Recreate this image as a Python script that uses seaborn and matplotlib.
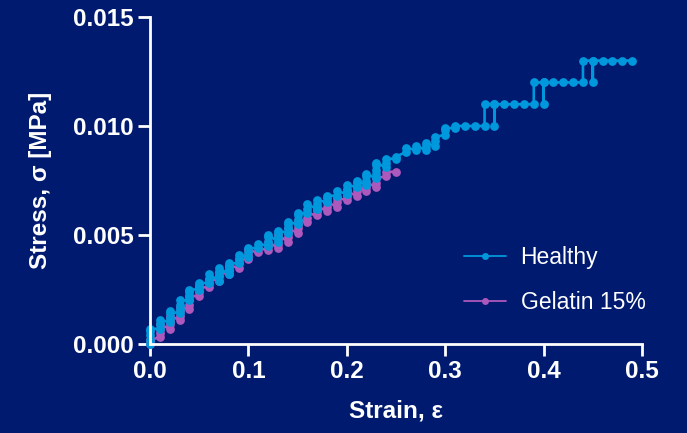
import matplotlib
matplotlib.use("Agg")
import matplotlib.pyplot as plt
from matplotlib.lines import Line2D
import seaborn as sns
import pandas as pd

# =====================================================
# DATA
# =====================================================

healthy_strain = [
    0.00, 0.00, 0.00, 0.00, 0.00,
    0.01, 0.01, 0.01,
    0.02, 0.02, 0.02, 0.02,
    0.03, 0.03, 0.03, 0.03,
    0.04, 0.04, 0.04, 0.04,
    0.05, 0.05, 0.05,
    0.06, 0.06, 0.06,
    0.07, 0.07, 0.07, 0.07,
    0.08, 0.08, 0.08, 0.08,
    0.09, 0.09, 0.09,
    0.10, 0.10, 0.10,
    0.11, 0.11,
    0.12, 0.12, 0.12, 0.12,
    0.13, 0.13, 0.13, 0.13,
    0.14, 0.14, 0.14, 0.14,
    0.15, 0.15, 0.15, 0.15,
    0.16, 0.16, 0.16,
    0.17, 0.17, 0.17,
    0.18, 0.18, 0.18,
    0.19, 0.19,
    0.20, 0.20, 0.20,
    0.21, 0.21, 0.21,
    0.22, 0.22, 0.22, 0.22,
    0.23, 0.23, 0.23, 0.23, 0.23,
    0.24, 0.24, 0.24,
    0.25, 0.25,
    0.26, 0.26,
    0.27, 0.27,
    0.28, 0.28, 0.28,
    0.29, 0.29, 0.29,
    0.30, 0.30, 0.30,
    0.31, 0.31,
    0.32, 0.33,
    0.34, 0.34,
    0.35, 0.35, 0.35,
    0.36, 0.37, 0.38,
    0.39, 0.39,
    0.40, 0.40, 0.40,
    0.41, 0.42, 0.43,
    0.44, 0.44,
    0.45, 0.45, 0.45,
    0.46, 0.47, 0.48, 0.49,
]

healthy_stress = [
    0.0000, 0.0002, 0.0004, 0.0006, 0.0007,
    0.0007, 0.0009, 0.0011,
    0.0010, 0.0012, 0.0014, 0.0015,
    0.0014, 0.0016, 0.0018, 0.0020,
    0.0020, 0.0022, 0.0024, 0.0025,
    0.0025, 0.0027, 0.0028,
    0.0028, 0.0030, 0.0032,
    0.0029, 0.0031, 0.0033, 0.0035,
    0.0032, 0.0034, 0.0036, 0.0037,
    0.0037, 0.0039, 0.0041,
    0.0040, 0.0042, 0.0044,
    0.0044, 0.0046,
    0.0045, 0.0047, 0.0049, 0.0050,
    0.0047, 0.0049, 0.0051, 0.0052,
    0.0051, 0.0053, 0.0055, 0.0056,
    0.0055, 0.0057, 0.0059, 0.0060,
    0.0060, 0.0062, 0.0064,
    0.0062, 0.0064, 0.0066,
    0.0065, 0.0067, 0.0068,
    0.0068, 0.0070,
    0.0069, 0.0071, 0.0073,
    0.0072, 0.0074, 0.0075,
    0.0073, 0.0075, 0.0077, 0.0078,
    0.0076, 0.0078, 0.0080, 0.0082, 0.0083,
    0.0081, 0.0083, 0.0085,
    0.0085, 0.0086,
    0.0088, 0.0090,
    0.0089, 0.0091,
    0.0089, 0.0091, 0.0092,
    0.0091, 0.0093, 0.0095,
    0.0096, 0.0098, 0.0099,
    0.0099, 0.010,
    0.010, 0.010,
    0.010, 0.011,
    0.011, 0.010, 0.011,
    0.011, 0.011, 0.011,
    0.011, 0.012,
    0.012, 0.011, 0.012,
    0.012, 0.012, 0.012,
    0.012, 0.013,
    0.013, 0.012, 0.013,
    0.013, 0.013, 0.013, 0.013,
]

gelatin_strain = [
    0.00, 0.00,
    0.01, 0.01, 0.01, 0.01,
    0.02, 0.02, 0.02, 0.02,
    0.03, 0.03, 0.03, 0.03,
    0.04, 0.04, 0.04, 0.04,
    0.05, 0.05, 0.05,
    0.06, 0.06, 0.06,
    0.07, 0.07, 0.07,
    0.08, 0.08, 0.08,
    0.09, 0.09, 0.09,
    0.10, 0.10, 0.10,
    0.11, 0.11,
    0.12, 0.12, 0.12,
    0.13, 0.13, 0.13, 0.13,
    0.14, 0.14, 0.14, 0.14,
    0.15, 0.15, 0.15, 0.15,
    0.16, 0.16, 0.16,
    0.17, 0.17, 0.17,
    0.18, 0.18, 0.18,
    0.19, 0.19, 0.19,
    0.20, 0.20, 0.20,
    0.21, 0.21, 0.21,
    0.22, 0.22, 0.22,
    0.23, 0.23, 0.23,
    0.24, 0.24,
    0.25,
]

gelatin_stress = [
    0.0000, 0.0002,
    0.0003, 0.0005, 0.0007, 0.0009,
    0.0007, 0.0009, 0.0011, 0.0013,
    0.0011, 0.0013, 0.0015, 0.0017,
    0.0016, 0.0018, 0.0020, 0.0022,
    0.0022, 0.0024, 0.0026,
    0.0026, 0.0028, 0.0030,
    0.0029, 0.0031, 0.0033,
    0.0032, 0.0034, 0.0036,
    0.0035, 0.0037, 0.0039,
    0.0039, 0.0041, 0.0043,
    0.0042, 0.0044,
    0.0043, 0.0045, 0.0047,
    0.0044, 0.0046, 0.0048, 0.0050,
    0.0047, 0.0049, 0.0051, 0.0053,
    0.0051, 0.0053, 0.0055, 0.0057,
    0.0056, 0.0058, 0.0060,
    0.0059, 0.0061, 0.0063,
    0.0061, 0.0063, 0.0065,
    0.0063, 0.0065, 0.0067,
    0.0066, 0.0068, 0.0070,
    0.0068, 0.0070, 0.0072,
    0.0070, 0.0072, 0.0074,
    0.0072, 0.0074, 0.0076,
    0.0077, 0.0079,
    0.0079,
]

group_names = ["Healthy", "Gelatin 15%"]

x_ticks = [0.0, 0.1, 0.2, 0.3, 0.4, 0.5]
y_ticks = [0.000, 0.005, 0.010, 0.015]

# =====================================================
# STYLE
# =====================================================

bg_color = "#001a70"
colors = {"Healthy": "#0098dc", "Gelatin 15%": "#ad58bd"}

sns.set_style("ticks")
plt.rcParams['font.family'] = ['Liberation Sans', 'DejaVu Sans']

df = pd.concat([
    pd.DataFrame({"strain": healthy_strain, "stress": healthy_stress, "group": group_names[0]}),
    pd.DataFrame({"strain": gelatin_strain, "stress": gelatin_stress, "group": group_names[1]}),
], ignore_index=True)

fig = plt.figure(figsize=(6.87, 4.33), dpi=100, facecolor=bg_color)
ax = fig.add_axes([150 / 687, 1 - 344 / 433, 492 / 687, 327 / 433])
ax.set_facecolor(bg_color)

# gelatin first so healthy sits on top
for name in [group_names[1], group_names[0]]:
    sns.lineplot(
        data=df[df["group"] == name],
        x="strain",
        y="stress",
        sort=False,
        estimator=None,
        color=colors[name],
        marker="o",
        markersize=6.3,
        markeredgewidth=0,
        linewidth=1.9,
        clip_on=False,
        ax=ax,
    )

ax.set_xlim(0, 0.5)
ax.set_ylim(0, 0.015)
ax.set_xticks(x_ticks)
ax.set_yticks(y_ticks)
ax.set_xticklabels([f"{v:.1f}" for v in x_ticks])
ax.set_yticklabels([f"{v:.3f}" for v in y_ticks])

for side in ["top", "right"]:
    ax.spines[side].set_visible(False)
for side in ["left", "bottom"]:
    ax.spines[side].set_color("white")
    ax.spines[side].set_linewidth(2)

ax.tick_params(colors="white", width=2, length=8.5, labelsize=17.5, pad=3)
for lab in ax.get_xticklabels() + ax.get_yticklabels():
    lab.set_fontweight("bold")

ax.set_xlabel("Strain, ε", color="white", fontsize=17.5, fontweight="bold", labelpad=12)
ax.set_ylabel("Stress, σ [MPa]", color="white", fontsize=17.5, fontweight="bold", labelpad=15)

handles = [
    Line2D([], [], color=colors[n], marker="o", markersize=5,
           markeredgewidth=0, linewidth=1.3)
    for n in group_names
]
leg = ax.legend(
    handles, group_names,
    loc="center left",
    bbox_to_anchor=(453 / 687, 1 - 280 / 433),
    bbox_transform=fig.transFigure,
    frameon=False,
    fontsize=16.5,
    handlelength=1.8,
    handletextpad=0.65,
    labelspacing=1.0,
    borderpad=0,
)
for t in leg.get_texts():
    t.set_color("white")

fig.savefig("out.png", dpi=100, facecolor=bg_color)
